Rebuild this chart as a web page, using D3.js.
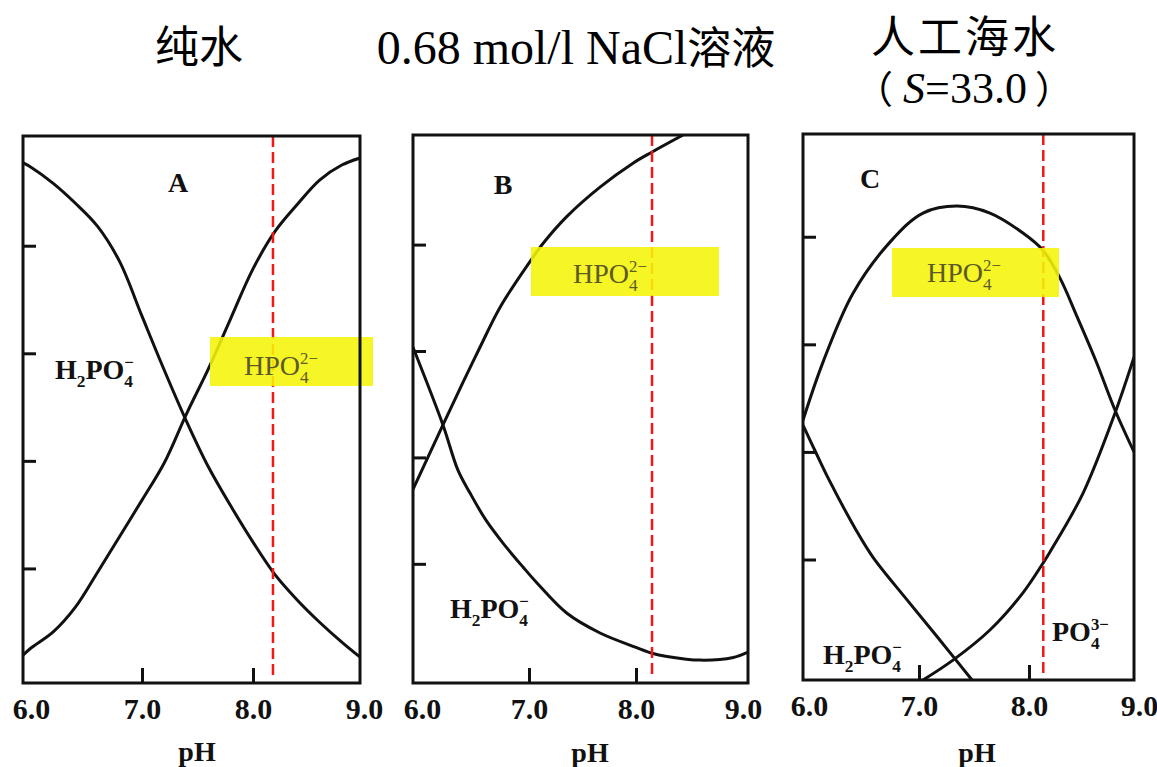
<!DOCTYPE html>
<html>
<head>
<meta charset="utf-8">
<script src="https://d3js.org/d3.v7.min.js"></script>
<style>
  body { margin: 0; background: #fff; }
</style>
</head>
<body>
<svg id="chart" width="1157" height="767"></svg>
<script>
// ---- data ----
const xLabels = [6, 7, 8, 9];
const xTicks = [7, 8];
const yTicks = [0.2, 0.4, 0.6, 0.8];
const panelNames = ["A", "B", "C"];
const redLinePH = [8.18, 8.15, 8.13];

// panel A : pure water
const phA = [5.93, 6.0, 6.2, 6.4, 6.6, 6.8, 7.0, 7.2, 7.4, 7.6, 7.8, 8.0, 8.2, 8.4, 8.6, 8.8, 8.965];
const h2po4A = [0.954, 0.946, 0.916, 0.879, 0.836, 0.770, 0.669, 0.569, 0.474, 0.388, 0.316, 0.249, 0.188, 0.141, 0.100, 0.063, 0.035];
const hpo4A = [0.039, 0.052, 0.082, 0.128, 0.193, 0.260, 0.327, 0.396, 0.487, 0.572, 0.665, 0.757, 0.827, 0.877, 0.922, 0.950, 0.963];

// panel B : 0.68 mol/l NaCl
const phB1 = [5.916, 6.196, 6.383, 6.542, 6.729, 7.009, 7.131, 7.355, 7.664, 7.972, 8.15, 8.44];
const hpo4B = [0.340, 0.461, 0.541, 0.607, 0.682, 0.768, 0.802, 0.853, 0.908, 0.953, 0.974, 1.006];
const phB2 = [5.916, 6.196, 6.336, 6.449, 6.598, 6.757, 6.944, 7.075, 7.355, 7.664, 8.0, 8.15, 8.29, 8.6, 8.91, 9.047];
const h2po4B = [0.607, 0.461, 0.376, 0.333, 0.282, 0.239, 0.194, 0.164, 0.107, 0.070, 0.043, 0.032, 0.026, 0.019, 0.024, 0.034];

// panel C : artificial seawater
const phC1 = [5.945, 6.127, 6.4, 6.736, 7.036, 7.345, 7.645, 7.945, 8.127, 8.282, 8.436, 8.609, 8.782, 8.955];
const hpo4C = [0.459, 0.567, 0.695, 0.790, 0.844, 0.857, 0.844, 0.807, 0.775, 0.723, 0.652, 0.569, 0.478, 0.400];
const phC2 = [5.945, 6.064, 6.182, 6.427, 6.582, 6.891, 7.191, 7.482];
const h2po4C = [0.450, 0.398, 0.348, 0.255, 0.204, 0.125, 0.050, -0.024];
const phC3 = [7.036, 7.309, 7.645, 7.945, 8.127, 8.191, 8.491, 8.782, 8.955];
const po4C = [-0.024, 0.013, 0.069, 0.138, 0.193, 0.214, 0.323, 0.472, 0.576];

// ion formulas: [text, kind]
const H2PO4 = [["H", ""], ["2", "sub"], ["PO", ""], ["4", "sub"], ["\u2212", "sup"]];
const HPO4 = [["HPO", ""], ["4", "sub"], ["2\u2212", "sup"]];
const PO4 = [["PO", ""], ["4", "sub"], ["3\u2212", "sup"]];

// ---- layout ----
const SERIF = '"Liberation Serif", "Times New Roman", serif';
const CJK = '"Noto Sans CJK SC", sans-serif';

const panels = [
  { left: 23, right: 360, top: 136, bottom: 683,
    xdom: [5.928, 8.964], ydom: [-0.013, 1.004],
    series: [[phA, h2po4A], [phA, hpo4A]],
    letter: [178, 192], pH: [197, 761],
    box: [210, 337, 163, 49],
    labels: [{ f: H2PO4, x: 55, y: 379 }],
    boxLabel: [281, 375] },
  { left: 413, right: 748, top: 135, bottom: 683,
    xdom: [5.916, 9.047], ydom: [-0.024, 1.006],
    series: [[phB1, hpo4B], [phB2, h2po4B]],
    letter: [503, 194], pH: [590, 762],
    box: [531, 247, 188, 49],
    labels: [{ f: H2PO4, x: 450, y: 618 }],
    boxLabel: [610, 283] },
  { left: 803, right: 1134, top: 134, bottom: 680,
    xdom: [5.945, 8.955], ydom: [-0.024, 0.991],
    series: [[phC1, hpo4C], [phC2, h2po4C], [phC3, po4C]],
    letter: [870, 188], pH: [977, 762],
    box: [892, 248, 167, 49],
    labels: [{ f: H2PO4, x: 823, y: 664 }, { f: PO4, x: 1052, y: 641 }],
    boxLabel: [964, 282] }
];

const svg = d3.select("#chart");

// ion formula with the charge stacked over the subscript
function ion(g, x, y, parts, size, anchor, fill, weight) {
  const t = g.append("text")
    .attr("x", x).attr("y", y)
    .style("font-family", SERIF)
    .attr("font-size", size)
    .attr("font-weight", weight)
    .attr("fill", fill)
    .attr("text-anchor", anchor);
  let shift = 0, lastSubW = 0;
  parts.forEach(function (p) {
    const s = p[0], k = p[1];
    const sp = t.append("tspan").text(s);
    let target = 0;
    if (k === "sub") {
      target = size * 0.28;
      sp.attr("font-size", size * 0.62);
      lastSubW = size * 0.62 * 0.5 * s.length;
    } else if (k === "sup") {
      target = -size * 0.4;
      sp.attr("font-size", size * 0.6).attr("dx", -lastSubW);
    }
    sp.attr("dy", target - shift);
    shift = target;
  });
}

panels.forEach(function (p, i) {
  const g = svg.append("g");
  const x = d3.scaleLinear().domain(p.xdom).range([p.left, p.right]);
  const y = d3.scaleLinear().domain(p.ydom).range([p.bottom, p.top]);

  g.append("clipPath").attr("id", "clip" + i)
    .append("rect")
    .attr("x", p.left).attr("y", p.top)
    .attr("width", p.right - p.left).attr("height", p.bottom - p.top);

  // curves
  const line = d3.line()
    .x(function (d) { return x(d[0]); })
    .y(function (d) { return y(d[1]); })
    .curve(d3.curveCatmullRom.alpha(0.5));
  p.series.forEach(function (s) {
    const pts = s[0].map(function (v, j) { return [v, s[1][j]]; });
    g.append("path")
      .attr("d", line(pts))
      .attr("clip-path", "url(#clip" + i + ")")
      .attr("fill", "none")
      .attr("stroke", "#111")
      .attr("stroke-width", 3);
  });

  // red dashed line (seawater pH)
  g.append("line")
    .attr("x1", x(redLinePH[i])).attr("x2", x(redLinePH[i]))
    .attr("y1", p.top).attr("y2", p.bottom - 5)
    .attr("stroke", "#f01818")
    .attr("stroke-width", 2.5)
    .attr("stroke-dasharray", "11,5");

  // yellow highlight with HPO4 2- label
  g.append("rect")
    .attr("x", p.box[0]).attr("y", p.box[1])
    .attr("width", p.box[2]).attr("height", p.box[3])
    .attr("fill", "#f5f508")
    .attr("fill-opacity", 0.88);
  ion(g, p.boxLabel[0], p.boxLabel[1], HPO4, 28, "middle", "#5c5a26", "normal");

  p.labels.forEach(function (l) {
    ion(g, l.x, l.y, l.f, 28, "start", "#111", "bold");
  });
  g.append("text")
    .attr("x", p.letter[0]).attr("y", p.letter[1])
    .attr("text-anchor", "middle")
    .style("font-family", SERIF)
    .attr("font-size", 28).attr("font-weight", "bold")
    .attr("fill", "#111")
    .text(panelNames[i]);

  // inward ticks
  const yAxis = d3.axisLeft(y).tickValues(yTicks).tickSize(-13).tickFormat("");
  g.append("g").attr("transform", "translate(" + p.left + ",0)").call(yAxis)
    .call(function (a) { a.select(".domain").remove(); })
    .selectAll("line").attr("stroke", "#111").attr("stroke-width", 3);

  const xAxis = d3.axisBottom(x).tickValues(xTicks).tickSize(-15).tickFormat("");
  g.append("g").attr("transform", "translate(0," + p.bottom + ")").call(xAxis)
    .call(function (a) { a.select(".domain").remove(); })
    .selectAll("line").attr("stroke", "#111").attr("stroke-width", 3);

  const xLab = d3.axisBottom(x).tickValues(xLabels).tickSize(0).tickPadding(15)
    .tickFormat(d3.format(".1f"));
  const lab = g.append("g").attr("transform", "translate(0," + p.bottom + ")").call(xLab);
  lab.select(".domain").remove();
  lab.selectAll("text")
    .style("font-family", SERIF)
    .attr("font-size", 30).attr("font-weight", "bold").attr("fill", "#111");

  g.append("text")
    .attr("x", p.pH[0]).attr("y", p.pH[1])
    .attr("text-anchor", "middle")
    .style("font-family", SERIF)
    .attr("font-size", 28).attr("font-weight", "bold").attr("fill", "#111")
    .text("pH");

  // frame
  g.append("rect")
    .attr("x", p.left).attr("y", p.top)
    .attr("width", p.right - p.left).attr("height", p.bottom - p.top)
    .attr("fill", "none").attr("stroke", "#111").attr("stroke-width", 3);
});

// titles
svg.append("text")
  .attr("x", 199).attr("y", 63).attr("text-anchor", "middle")
  .style("font-family", CJK)
  .attr("font-size", 44).attr("fill", "#000").text("纯水");

const t2 = svg.append("text").attr("x", 576).attr("y", 64)
  .attr("text-anchor", "middle")
  .style("font-family", SERIF)
  .attr("font-size", 48).attr("fill", "#000");
t2.append("tspan").text("0.68 mol/l NaCl");
t2.append("tspan").style("font-family", CJK).attr("font-size", 44).text("溶液");

svg.append("text")
  .attr("x", 965).attr("y", 53).attr("text-anchor", "middle")
  .style("font-family", CJK).attr("letter-spacing", 3)
  .attr("font-size", 44).attr("fill", "#000").text("人工海水");

const t3 = svg.append("text").attr("x", 964).attr("y", 103)
  .attr("text-anchor", "middle")
  .style("font-family", SERIF)
  .attr("font-size", 44).attr("fill", "#000");
t3.append("tspan").style("font-family", CJK).attr("font-size", 38).text("（");
t3.append("tspan").attr("dx", 10).attr("font-style", "italic").text("S");
t3.append("tspan").text("=33.0");
t3.append("tspan").attr("dx", 8).style("font-family", CJK).attr("font-size", 38).text("）");
</script>
</body>
</html>
